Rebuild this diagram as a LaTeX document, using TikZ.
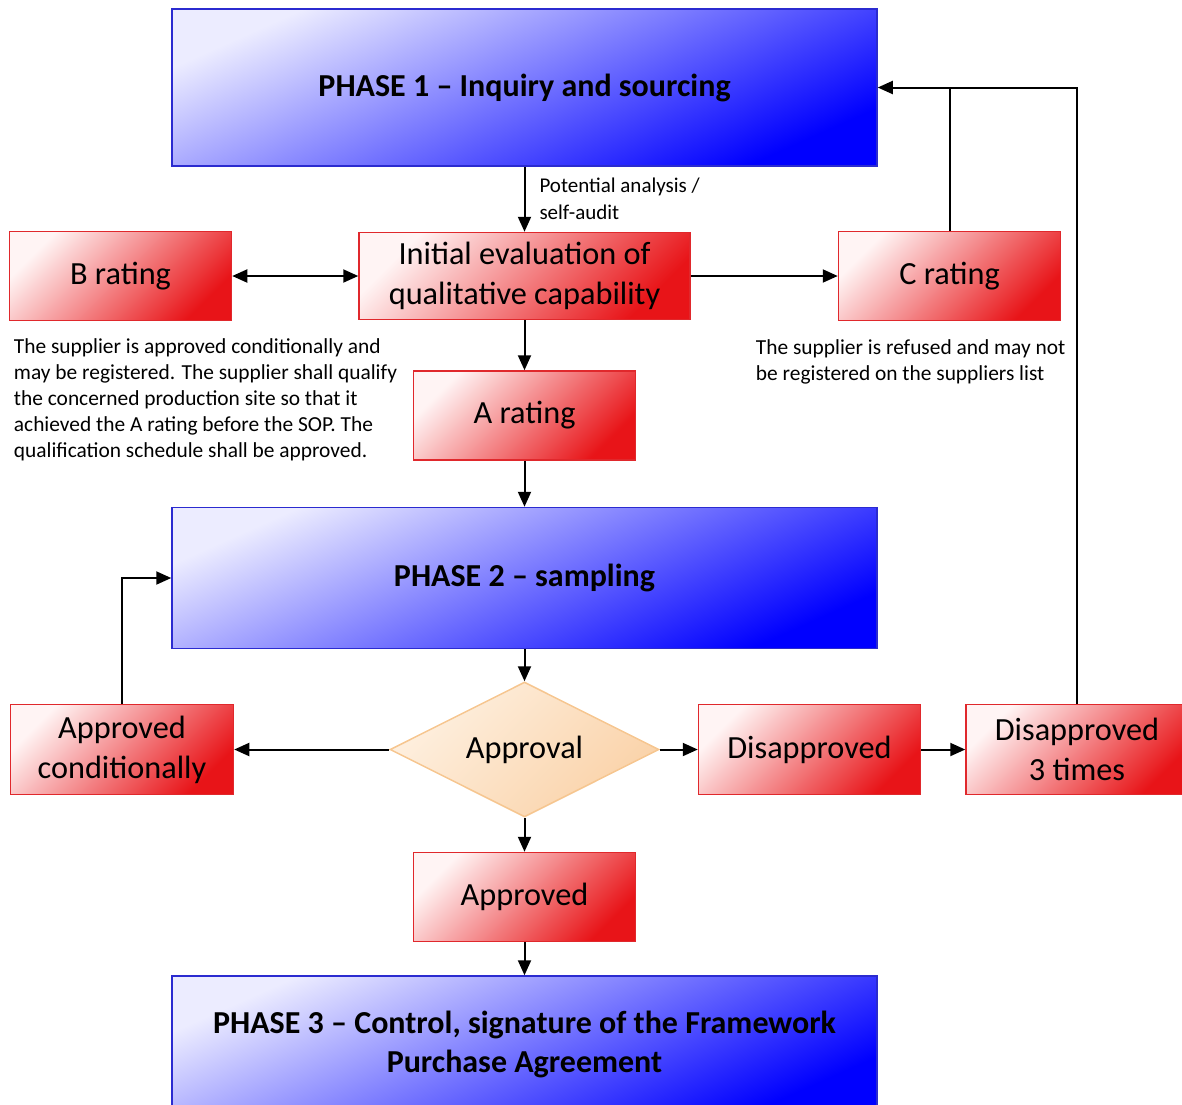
\documentclass[tikz,border=0pt]{standalone}
\usepackage{fontspec}
\setmainfont{Carlito}
\usetikzlibrary{arrows.meta,positioning,shapes.geometric}
\definecolor{phaseedge}{HTML}{2B2BD0}
\definecolor{phaselt}{HTML}{ECECFF}
\definecolor{phasedk}{HTML}{0000FF}
\definecolor{rateedge}{HTML}{E0282C}
\definecolor{ratelt}{HTML}{FFF4F4}
\definecolor{ratedk}{HTML}{E81418}
\definecolor{decedge}{HTML}{F6C690}
\definecolor{declt}{HTML}{FEF0E0}
\definecolor{decdk}{HTML}{FAD2A8}

\begin{document}
\begin{tikzpicture}[x=1pt, y=-1pt,
  node distance=50pt and 50pt,
  phase/.style={draw=phaseedge, line width=1.5pt, top color=phaselt, bottom color=phasedk,
    shading angle=24, minimum width=705pt, align=center,
    font=\fontsize{32}{39}\selectfont\bfseries},
  rate/.style={draw=rateedge, line width=1.5pt, top color=ratelt, bottom color=ratedk,
    shading angle=45, minimum width=222pt, minimum height=89pt, align=center,
    font=\fontsize{32.3}{40}\selectfont},
  decision/.style={diamond, aspect=2.02, draw=decedge, line width=1.5pt, top color=declt,
    bottom color=decdk, shading angle=45, minimum width=269pt, minimum height=135pt,
    inner sep=0pt, font=\fontsize{32.3}{40}\selectfont},
  arr/.style={-{Triangle[length=15pt,width=13pt]}, line width=2pt},
  twoway/.style={{Triangle[length=15pt,width=13pt]}-{Triangle[length=15pt,width=13pt]}, line width=2pt},
  link/.style={line width=2pt},
  note/.style={font=\fontsize{21.4}{26}\selectfont, align=left, inner sep=0pt},
  lbl/.style={font=\fontsize{21}{27}\selectfont, align=left, inner sep=0pt}
]
  \clip (0,0) rectangle (1182,1104);

  \node[phase, minimum height=157pt] (phase1) at (524.5,87.5) {PHASE 1 -- Inquiry and sourcing};
  \node[rate, minimum width=331pt, minimum height=87pt, below=65pt of phase1] (init)
    {Initial evaluation of\\qualitative capability};
  \node[rate, left=126pt of init] (brate) {B rating};
  \node[rate, right=147pt of init] (crate) {C rating};
  \node[rate, below=50pt of init] (arate) {A rating};
  \node[phase, minimum height=141pt, below=46pt of arate] (phase2) {PHASE 2 -- sampling};
  \node[decision, below=32pt of phase2] (approval) {Approval};
  \node[rate, minimum width=223pt, minimum height=90pt, left=155pt of approval] (apcond)
    {Approved\\conditionally};
  \node[rate, minimum height=90pt, right=38pt of approval] (disapp) {Disapproved};
  \node[rate, minimum height=90pt, right=44pt of disapp] (disapp3) {Disapproved\\3 times};
  \node[rate, below=34pt of approval] (approved) {Approved};
  \node[phase, minimum height=136pt, below=33pt of approved] (phase3)
    {PHASE 3 -- Control, signature of the Framework\\Purchase Agreement};

  \node[note, below right=17pt and 5pt of brate.south west] (bnote)
    {The supplier is approved conditionally and\\
     may be registered. The supplier shall qualify\\
     the concerned production site so that it\\
     achieved the A rating before the SOP. The\\
     qualification schedule shall be approved.};
  \node[note, below right=18pt and -82pt of crate.south west] (cnote)
    {The supplier is refused and may not\\
     be registered on the suppliers list};

  \draw[arr] (phase1) -- node[lbl, right=14pt] {Potential analysis /\\self-audit} (init);
  \draw[twoway] (brate) -- (init);
  \draw[arr] (init) -- (crate);
  \draw[arr] (init) -- (arate);
  \draw[arr] (arate) -- (phase2);
  \draw[arr] (phase2) -- (approval);
  \draw[arr] (approval) -- (apcond);
  \draw[arr] (approval) -- (disapp);
  \draw[arr] (disapp) -- (disapp3);
  \draw[arr] (approval) -- (approved);
  \draw[arr] (approved) -- (phase3);
  \draw[arr] (apcond.north) |- (phase2.west);
  \draw[arr] (disapp3.north) |- (phase1.east);
  \draw[link] (crate.north) -- (crate.north |- phase1.east);
\end{tikzpicture}
\end{document}
